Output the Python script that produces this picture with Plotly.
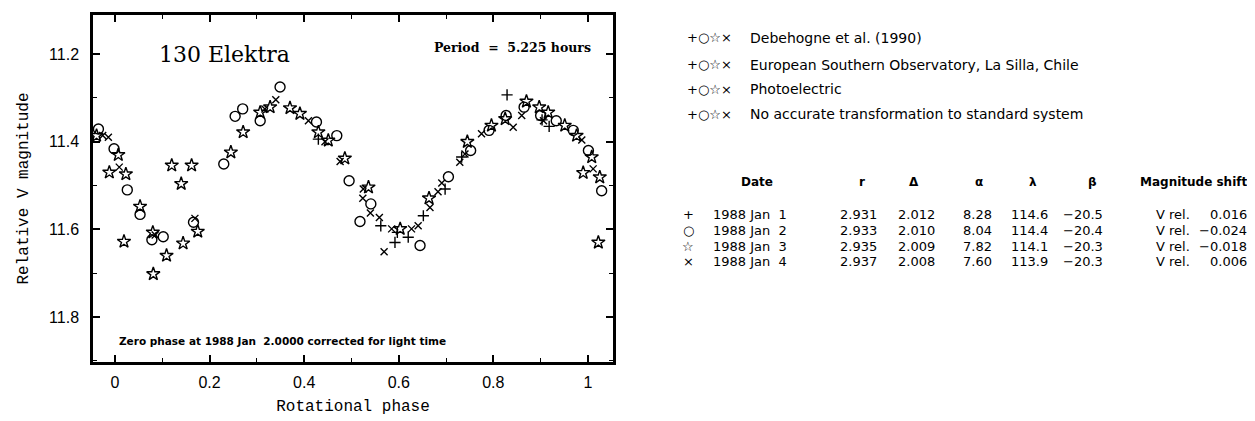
import plotly.graph_objects as go

# ---------------- data ----------------
# 1988 Jan 1  (+)
jan1_phase = [0.430, 0.562, 0.592, 0.597, 0.620, 0.652, 0.698, 0.733, 0.829, 0.903, 0.918]
jan1_mag = [11.394, 11.592, 11.630, 11.607, 11.618, 11.569, 11.508, 11.435, 11.293, 11.350, 11.365]

# 1988 Jan 2  (circle)
jan2_phase = [-0.035, -0.002, 0.026, 0.053, 0.078, 0.102, 0.166, 0.230, 0.254, 0.270,
              0.307, 0.349, 0.426, 0.469, 0.495, 0.518, 0.541, 0.645, 0.705, 0.752,
              0.791, 0.827, 0.865, 0.900, 0.933, 0.969, 1.001, 1.029]
jan2_mag = [11.371, 11.416, 11.510, 11.566, 11.624, 11.617, 11.584, 11.451, 11.342, 11.325,
            11.352, 11.275, 11.355, 11.386, 11.489, 11.582, 11.542, 11.637, 11.480, 11.420,
            11.374, 11.340, 11.321, 11.340, 11.352, 11.374, 11.420, 11.512]

# 1988 Jan 3  (star)
jan3_phase = [-0.039, 0.007, -0.012, 0.023, 0.053, 0.019, 0.080, 0.081, 0.109, 0.120,
              0.162, 0.140, 0.144, 0.175, 0.245, 0.271, 0.307, 0.328, 0.370, 0.391,
              0.430, 0.451, 0.486, 0.536, 0.603, 0.664, 0.745, 0.796, 0.825, 0.870,
              0.897, 0.916, 0.951, 0.976, 1.008, 0.990, 1.025, 1.022]
jan3_mag = [11.386, 11.430, 11.470, 11.474, 11.548, 11.628, 11.607, 11.702, 11.660, 11.454,
            11.454, 11.496, 11.632, 11.605, 11.424, 11.378, 11.333, 11.321, 11.323, 11.336,
            11.378, 11.397, 11.438, 11.504, 11.599, 11.529, 11.400, 11.363, 11.348, 11.308,
            11.321, 11.333, 11.363, 11.386, 11.435, 11.471, 11.481, 11.630]

# 1988 Jan 4  (x)
jan4_phase = [-0.026, -0.014, 0.009, 0.085, 0.169, 0.317, 0.340, 0.409, 0.444, 0.476,
              0.524, 0.525, 0.540, 0.559, 0.569, 0.585, 0.627, 0.641, 0.666, 0.683,
              0.691, 0.729, 0.740, 0.775, 0.842, 0.860, 0.906, 0.987, 1.011]
jan4_mag = [11.386, 11.390, 11.458, 11.613, 11.575, 11.325, 11.304, 11.352, 11.400, 11.445,
            11.529, 11.508, 11.563, 11.573, 11.651, 11.599, 11.599, 11.592, 11.550, 11.514,
            11.494, 11.447, 11.428, 11.382, 11.367, 11.340, 11.352, 11.396, 11.462]

x_tickvals = [0, 0.2, 0.4, 0.6, 0.8, 1]
x_ticktext = ["0", "0.2", "0.4", "0.6", "0.8", "1"]
y_tickvals = [11.2, 11.4, 11.6, 11.8]
y_ticktext = ["11.2", "11.4", "11.6", "11.8"]

legend_lines = ["Debehogne et al. (1990)",
                "European Southern Observatory, La Silla, Chile",
                "Photoelectric",
                "No accurate transformation to standard system"]

table_symbols = ["+", "○", "☆", "×"]
table_dates = ["1988 Jan  1", "1988 Jan  2", "1988 Jan  3", "1988 Jan  4"]
table_r = ["2.931", "2.933", "2.935", "2.937"]
table_delta = ["2.012", "2.010", "2.009", "2.008"]
table_alpha = ["8.28", "8.04", "7.82", "7.60"]
table_lambda = ["114.6", "114.4", "114.1", "113.9"]
table_beta = ["−20.5", "−20.4", "−20.3", "−20.3"]
table_shift = ["0.016", "−0.024", "−0.018", "0.006"]

# ---------------- figure ----------------
OFF = 8                      # default body margin of the html page
PAGE_W, PAGE_H = 1255, 421
L, R, T, B = 93, 613, 12, 362   # plot frame, page pixels
W, H = PAGE_W - OFF, PAGE_H - OFF


def px(x):
    return (x - L) / (R - L)


def py(y):
    return (B - y) / (B - T)


fig = go.Figure()
mline = dict(color="black", width=1.4)
fig.add_trace(go.Scatter(x=jan1_phase, y=jan1_mag, mode="markers", name="1988 Jan 1",
                         marker=dict(symbol="cross-thin-open", size=8, color="black", line=mline)))
fig.add_trace(go.Scatter(x=jan2_phase, y=jan2_mag, mode="markers", name="1988 Jan 2",
                         marker=dict(symbol="circle-open", size=10, color="black", line=mline)))
fig.add_trace(go.Scatter(x=jan3_phase, y=jan3_mag, mode="markers", name="1988 Jan 3",
                         marker=dict(symbol="star-open", size=10, color="black", line=mline)))
fig.add_trace(go.Scatter(x=jan4_phase, y=jan4_mag, mode="markers", name="1988 Jan 4",
                         marker=dict(symbol="x-thin-open", size=7, color="black", line=mline)))

axis_common = dict(showline=True, linecolor="black", linewidth=2.5, mirror="allticks",
                   ticks="inside", ticklen=7, tickwidth=1.5, tickcolor="black",
                   showgrid=False, zeroline=False,
                   tickfont=dict(family="Liberation Sans", size=16, color="black"))

fig.update_xaxes(range=[-0.0465, 1.053], tickvals=x_tickvals, ticktext=x_ticktext,
                 ticklabelstandoff=4,
                 minor=dict(dtick=0.1, tick0=0, ticks="inside", ticklen=4, tickcolor="black", tickwidth=1.2),
                 title=dict(text="Rotational phase", standoff=10,
                            font=dict(family="Liberation Mono", size=16, color="black")),
                 **axis_common)
fig.update_yaxes(range=[11.903, 11.1106], tickvals=y_tickvals, ticktext=y_ticktext,
                 ticklabelstandoff=8,
                 minor=dict(dtick=0.1, tick0=11.2, ticks="inside", ticklen=4, tickcolor="black", tickwidth=1.2),
                 title=dict(text="Relative V magnitude", standoff=17,
                            font=dict(family="Liberation Mono", size=16, color="black")),
                 **axis_common)

ann = []


def text(x, y, s, size, family="DejaVu Sans", anchor="left", bold=False):
    ann.append(dict(x=px(x), y=py(y), xref="paper", yref="paper", text=(f"<b>{s}</b>" if bold else s),
                    showarrow=False, xanchor=anchor, yanchor="middle",
                    font=dict(family=family, size=size, color="black")))


text(157, 52, "130 Elektra", 22, family="DejaVu Serif")
text(593, 45, "Period  =  5.225 hours", 12.5, family="DejaVu Serif", anchor="right", bold=True)
text(117, 341, "Zero phase at 1988 Jan  2.0000 corrected for light time", 10.5, bold=True)

legend_y = [35, 62, 87, 112]
for yy, line in zip(legend_y, legend_lines):
    text(685, yy, "+○☆×", 13)
    text(748, yy, line, 14)

head_y = 180
row_y = [213, 229, 245, 261]
text(757, head_y, "Date", 12, anchor="center", bold=True)
text(862, head_y, "r", 12, anchor="center", bold=True)
text(914, head_y, "Δ", 12, anchor="center", bold=True)
text(979, head_y, "α", 12, anchor="center", bold=True)
text(1033, head_y, "λ", 12, anchor="center", bold=True)
text(1092, head_y, "β", 12, anchor="center", bold=True)
text(1249, head_y, "Magnitude shift", 12, anchor="right", bold=True)

for i, yy in enumerate(row_y):
    text(688, yy, table_symbols[i], 13, anchor="center")
    text(711, yy, table_dates[i], 13)
    text(858, yy, table_r[i], 13, anchor="center")
    text(916, yy, table_delta[i], 13, anchor="center")
    text(977, yy, table_alpha[i], 13, anchor="center")
    text(1029, yy, table_lambda[i], 13, anchor="center")
    text(1083, yy, table_beta[i], 13, anchor="center")
    text(1154, yy, "V rel.", 13)
    text(1249, yy, table_shift[i], 13, anchor="right")

fig.update_layout(width=W, height=H, autosize=False,
                  margin=dict(l=L - OFF, r=(PAGE_W - OFF) - (R - OFF), t=T - OFF, b=(PAGE_H - OFF) - (B - OFF), pad=0),
                  plot_bgcolor="white", paper_bgcolor="white",
                  showlegend=False, annotations=ann)

fig.write_html("out.html")
